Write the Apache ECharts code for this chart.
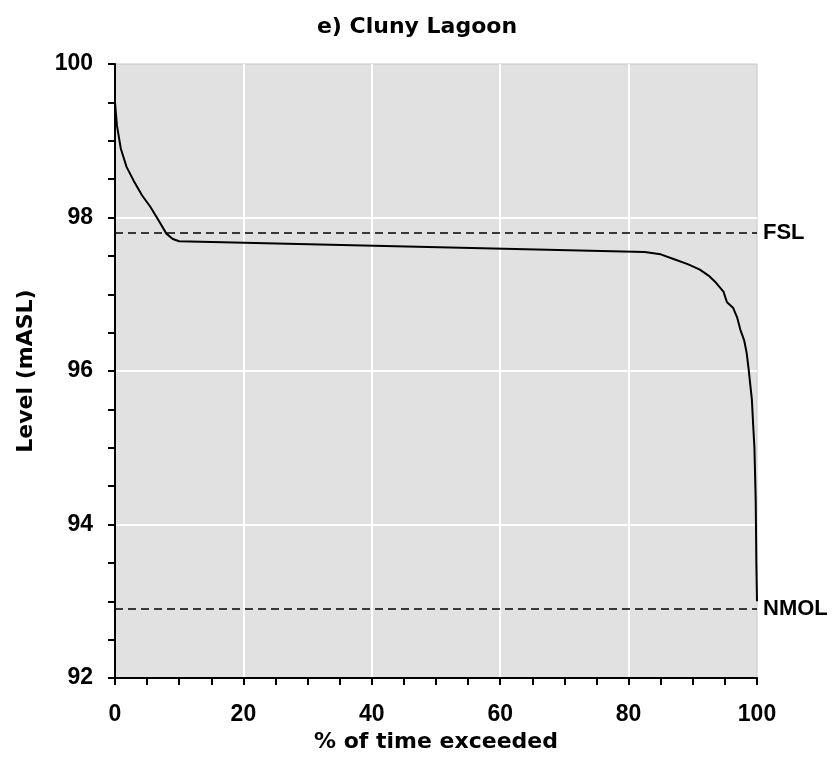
<!DOCTYPE html>
<html>
<head>
<meta charset="utf-8">
<script src="https://cdn.jsdelivr.net/npm/echarts@6/dist/echarts.min.js"></script>
<style>
  html, body { margin: 0; padding: 0; background: #fff; }
  #chart { width: 835px; height: 760px; }
</style>
</head>
<body>
<div id="chart"></div>
<script>
// exceedance curve
var pctExceeded = [0, 0.1, 0.3, 0.9, 1.8, 2.9, 4.2, 5.5, 6.8, 8.0, 9.0, 10.0,
  82.5, 85, 87, 89.3, 91.1, 92.5, 93.5, 94.8, 95.3, 96.3, 96.9, 97.4, 98.0,
  98.4, 98.7, 99.2, 99.4, 99.6, 99.8, 99.9, 100];
var levelValues = [99.5, 99.4, 99.2, 98.9, 98.66, 98.48, 98.29, 98.14, 97.96, 97.79, 97.72, 97.69,
  97.55, 97.52, 97.46, 97.39, 97.32, 97.24, 97.16, 97.03, 96.9, 96.82, 96.7, 96.54, 96.4,
  96.23, 96.02, 95.63, 95.3, 95.0, 94.3, 93.5, 93.0];
var refNames = ['FSL', 'NMOL'];
var refLevels = [97.8, 92.9];

var font = '"Liberation Sans", Arial, sans-serif';
var wideFont = '"DejaVu Sans", "Liberation Sans", sans-serif';
var curve = [];
for (var i = 0; i < pctExceeded.length; i++) {
  curve.push([pctExceeded[i], levelValues[i]]);
}
var refLines = [];
for (var j = 0; j < refNames.length; j++) {
  refLines.push([
    { coord: [0, refLevels[j]] },
    { coord: [100, refLevels[j]], name: refNames[j] }
  ]);
}

var chart = echarts.init(document.getElementById('chart'));
chart.setOption({
  animation: false,
  title: {
    text: 'e) Cluny Lagoon',
    left: 412, top: 11, textAlign: 'center',
    textStyle: { fontFamily: wideFont, fontWeight: 'bold', fontSize: 22, color: '#000' }
  },
  grid: {
    left: 115, right: 78, top: 64, bottom: 82,
    show: true, backgroundColor: '#e1e1e1', borderColor: '#c8c8c8', borderWidth: 1
  },
  xAxis: {
    type: 'value', min: 0, max: 100, interval: 20,
    name: '% of time exceeded', nameLocation: 'middle', nameGap: 47,
    nameTextStyle: { fontFamily: wideFont, fontWeight: 'bold', fontSize: 22, color: '#000' },
    axisLine: { lineStyle: { color: '#000', width: 2 } },
    axisTick: { length: 7, lineStyle: { color: '#000', width: 2 } },
    minorTick: { show: true, splitNumber: 4, length: 7, lineStyle: { color: '#000', width: 2 } },
    axisLabel: { margin: 25, fontFamily: font, fontWeight: 'bold', fontSize: 23, color: '#000' },
    splitLine: { show: true, showMinLine: false, showMaxLine: false, lineStyle: { color: '#fff', width: 2 } }
  },
  yAxis: {
    type: 'value', min: 92, max: 100, interval: 2,
    name: 'Level (mASL)', nameLocation: 'middle', nameGap: 78,
    nameTextStyle: { fontFamily: wideFont, fontWeight: 'bold', fontSize: 22, color: '#000' },
    axisLine: { show: true, lineStyle: { color: '#000', width: 2 } },
    axisTick: { show: true, length: 7, lineStyle: { color: '#000', width: 2 } },
    minorTick: { show: true, splitNumber: 4, length: 7, lineStyle: { color: '#000', width: 2 } },
    axisLabel: { margin: 22, fontFamily: font, fontWeight: 'bold', fontSize: 23, color: '#000' },
    splitLine: { show: true, showMinLine: false, showMaxLine: false, lineStyle: { color: '#fff', width: 2 } }
  },
  series: [{
    type: 'line',
    data: curve,
    showSymbol: false,
    lineStyle: { color: '#000', width: 2 },
    markLine: {
      silent: true,
      symbol: 'none',
      lineStyle: { color: '#000', type: [8, 5], width: 1.5 },
      label: {
        position: 'end', distance: 6, formatter: '{b}',
        fontFamily: font, fontWeight: 'bold', fontSize: 22, color: '#000'
      },
      data: refLines
    }
  }]
});
</script>
</body>
</html>
